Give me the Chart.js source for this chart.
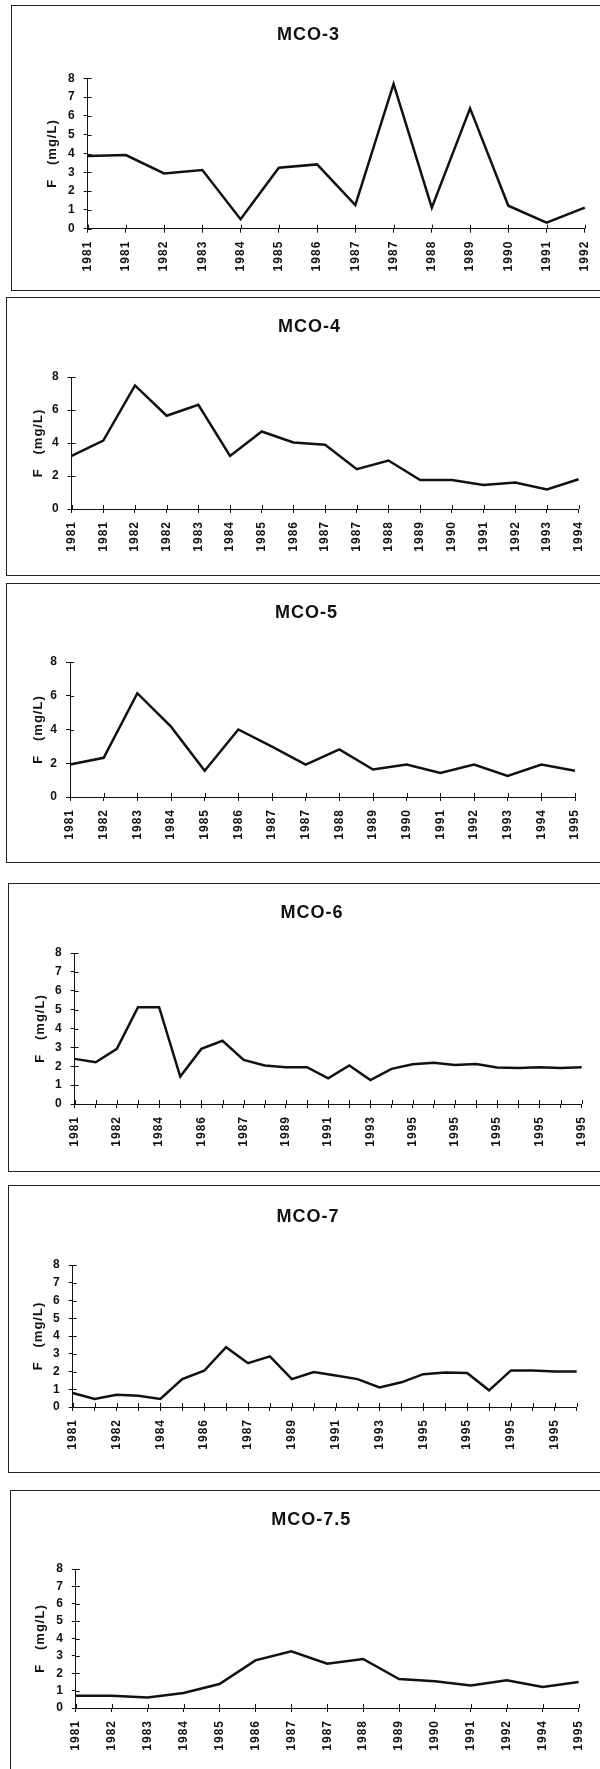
<!DOCTYPE html>
<html>
<head>
<meta charset="utf-8">
<script src="https://cdn.jsdelivr.net/npm/chart.js@4.4.1/dist/chart.umd.min.js"></script>
<style>
  html, body { margin: 0; padding: 0; background: #fff; }
  body { width: 600px; height: 1769px; overflow: hidden; position: relative; }
  .box { position: absolute; border: 1px solid #222; box-sizing: border-box; width: 640px; }
  canvas { position: absolute; left: 0; }
</style>
</head>
<body>
<script>
// data (F in mg/L)
var mco3Years = ['1981','1981','1982','1983','1984','1985','1986','1987','1987','1988','1989','1990','1991','1992'];
var mco3F = [3.87, 3.92, 2.94, 3.12, 0.5, 3.24, 3.42, 1.26, 7.7, 1.12, 6.4, 1.22, 0.32, 1.12];

var mco4Years = ['1981','1981','1982','1982','1983','1984','1985','1986','1987','1987','1988','1989','1990','1991','1992','1993','1994'];
var mco4F = [3.22, 4.15, 7.49, 5.65, 6.32, 3.22, 4.7, 4.03, 3.89, 2.41, 2.94, 1.76, 1.76, 1.46, 1.6, 1.19, 1.8];

var mco5Years = ['1981','1982','1983','1984','1985','1986','1987','1987','1988','1989','1990','1991','1992','1993','1994','1995'];
var mco5F = [1.92, 2.32, 6.15, 4.17, 1.55, 4.0, 2.98, 1.92, 2.82, 1.63, 1.92, 1.43, 1.92, 1.25, 1.92, 1.55];

var mco6Years = ['1981','','1982','','1984','','1986','','1987','','1989','','1991','','1993','','1995','','1995','','1995','','1995','','1995'];
var mco6F = [2.39, 2.21, 2.92, 5.13, 5.13, 1.45, 2.92, 3.35, 2.34, 2.04, 1.95, 1.95, 1.36, 2.04, 1.27, 1.86, 2.1, 2.19, 2.07, 2.12, 1.93, 1.91, 1.95, 1.91, 1.95];

var mco7Years = ['1981','','1982','','1984','','1986','','1987','','1989','','1991','','1993','','1995','','1995','','1995','','1995',''];
var mco7F = [0.79, 0.45, 0.69, 0.64, 0.45, 1.57, 2.04, 3.37, 2.47, 2.85, 1.57, 1.97, 1.78, 1.57, 1.1, 1.39, 1.85, 1.95, 1.91, 0.94, 2.06, 2.06, 2.0, 2.0];

var mco75Years = ['1981','1982','1983','1984','1985','1986','1987','1987','1988','1989','1990','1991','1992','1994','1995'];
var mco75F = [0.71, 0.71, 0.61, 0.86, 1.38, 2.74, 3.26, 2.55, 2.82, 1.67, 1.54, 1.29, 1.59, 1.21, 1.5];

// page geometry of each scanned panel (box, title, axes)
var panels = [
  {name: 'MCO-3',   years: mco3Years,  f: mco3F,  step: 1, boxL: 11, top: 5,    bottom: 291,  titleY: 35,   y8: 78.3, y0: 228.7, xL: 87.6, xR: 584.8, titleX: 308.5, yTitleX: 52.5},
  {name: 'MCO-4',   years: mco4Years,  f: mco4F,  step: 2, boxL: 6,  top: 297,  bottom: 576,  titleY: 327,  y8: 377,  y0: 509,   xL: 71.6, xR: 578.6, titleX: 309.4, yTitleX: 38.5},
  {name: 'MCO-5',   years: mco5Years,  f: mco5F,  step: 2, boxL: 6,  top: 583,  bottom: 863,  titleY: 613,  y8: 662,  y0: 797,   xL: 70,   xR: 575,   titleX: 306.5, yTitleX: 38.3},
  {name: 'MCO-6',   years: mco6Years,  f: mco6F,  step: 1, boxL: 8,  top: 883,  bottom: 1172, titleY: 913,  y8: 953,  y0: 1104,  xL: 74.6, xR: 581.7, titleX: 311.9, yTitleX: 40.2},
  {name: 'MCO-7',   years: mco7Years,  f: mco7F,  step: 1, boxL: 8,  top: 1185, bottom: 1473, titleY: 1217, y8: 1265, y0: 1407,  xL: 72.7, xR: 576.7, titleX: 308.1, yTitleX: 38.3},
  {name: 'MCO-7.5', years: mco75Years, f: mco75F, step: 1, boxL: 10, top: 1490, bottom: 1775, titleY: 1520, y8: 1569, y0: 1708,  xL: 75.8, xR: 578.6, titleX: 311.3, yTitleX: 40.2}
];

var FONT = "'Liberation Sans', Arial, sans-serif";
var INK = '#111';
var W = 640;

// ticks in the scan cross the axis lines, the library only draws the outer half
var crossTicks = {
  id: 'crossTicks',
  beforeUpdate: function(chart) { chart.ctx.letterSpacing = '1px'; },
  afterDatasetsDraw: function(chart) {
    var ctx = chart.ctx, x = chart.scales.x, y = chart.scales.y;
    ctx.save();
    ctx.strokeStyle = INK;
    ctx.lineWidth = 1;
    ctx.beginPath();
    for (var i = 0; i < x.ticks.length; i++) {
      var px = Math.round(x.getPixelForTick(i)) + 0.5;
      ctx.moveTo(px, y.bottom);
      ctx.lineTo(px, y.bottom - 4);
    }
    for (var j = 0; j < y.ticks.length; j++) {
      var py = Math.round(y.getPixelForTick(j)) + 0.5;
      ctx.moveTo(x.left, py);
      ctx.lineTo(x.left + 4, py);
    }
    ctx.stroke();
    ctx.restore();
  }
};

panels.forEach(function(p) {
  var box = document.createElement('div');
  box.className = 'box';
  box.style.left = p.boxL + 'px';
  box.style.top = p.top + 'px';
  box.style.height = (p.bottom - p.top) + 'px';
  document.body.appendChild(box);

  var H = p.bottom - p.top;
  var cv = document.createElement('canvas');
  cv.width = W;
  cv.height = H;
  cv.style.top = p.top + 'px';
  document.body.appendChild(cv);

  var padL = 2 * p.titleX - p.xR;       // keeps title centred where the scan has it
  var yWidth = p.xL - padL;
  var xHeight = H - (p.y0 - p.top);

  new Chart(cv, {
    type: 'line',
    data: {
      labels: p.years,
      datasets: [{
        data: p.f,
        borderColor: INK,
        borderWidth: 2.5,
        pointRadius: 0,
        tension: 0,
        fill: false
      }]
    },
    options: {
      responsive: false,
      animation: false,
      devicePixelRatio: 1,
      layout: { padding: { left: padL, right: W - p.xR, top: 0, bottom: 0 } },
      plugins: {
        legend: { display: false },
        tooltip: { enabled: false },
        title: {
          display: true,
          text: p.name,
          color: INK,
          font: { family: FONT, size: 18, weight: 'bold', lineHeight: 1.2 },
          padding: { top: (p.titleY - p.top) - 10.8, bottom: (p.y8 - p.titleY) - 10.8 }
        }
      },
      scales: {
        x: {
          type: 'category',
          offset: false,
          grid: { drawOnChartArea: false, drawTicks: true, tickLength: 4, color: INK },
          border: { display: true, color: INK, width: 1 },
          ticks: {
            autoSkip: false,
            minRotation: 90,
            maxRotation: 90,
            padding: 8,
            color: INK,
            font: { family: FONT, size: 12, weight: 'bold' }
          },
          afterFit: function(s) { s.height = xHeight; s.paddingLeft = 0; s.paddingRight = 0; }
        },
        y: {
          min: 0,
          max: 8,
          grid: { drawOnChartArea: false, drawTicks: true, tickLength: 4, color: INK },
          border: { display: true, color: INK, width: 1 },
          ticks: {
            stepSize: p.step,
            autoSkip: false,
            padding: 8,
            color: INK,
            font: { family: FONT, size: 12, weight: 'bold' }
          },
          title: {
            display: true,
            text: 'F   (mg/L)',
            color: INK,
            font: { family: FONT, size: 13, weight: 'bold', lineHeight: 1.2 },
            padding: { top: p.yTitleX - padL - 7.8, bottom: 0 }
          },
          afterFit: function(s) { s.width = yWidth; s.paddingTop = 0; s.paddingBottom = 0; }
        }
      }
    },
    plugins: [crossTicks]
  });
});
</script>
</body>
</html>
